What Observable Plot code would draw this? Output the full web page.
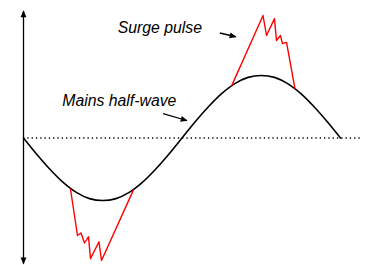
<!DOCTYPE html>
<html>
<head>
<meta charset="utf-8">
<script src="https://cdn.jsdelivr.net/npm/d3@7"></script>
<script src="https://cdn.jsdelivr.net/npm/@observablehq/plot@0.6"></script>
<style>
  html, body { margin: 0; padding: 0; background: #fff; }
  #chart svg { display: block; }
</style>
</head>
<body>
<div id="chart"></div>
<script>
// Mains half-wave: phase (degrees) and voltage (relative to peak)
const wavePhase = [0,15,30,45,60,75,90,105,120,135,150,165,180,195,210,225,240,255,270,285,300,315,330,345,360];
const waveVolts = [0,-0.26,-0.5,-0.71,-0.87,-0.97,-1,-0.97,-0.87,-0.71,-0.5,-0.26,0,0.26,0.5,0.71,0.87,0.97,1,0.97,0.87,0.71,0.5,0.26,0];

// Surge pulse on the negative half-wave
const surgeNegPhase = [53.4,61.3,65.3,69.3,73.8,76.1,85.7,88.6,124.9];
const surgeNegVolts = [-0.82,-1.56,-1.52,-1.68,-1.58,-1.93,-1.66,-1.96,-0.83];

// Surge pulse on the positive half-wave
const surgePosPhase = [236.2,272.0,276.0,285.0,287.3,291.8,294.1,298.7,308.3];
const surgePosVolts = [0.83,1.96,1.64,1.91,1.56,1.64,1.51,1.53,0.79];

// Annotations
const labelTexts = ["Surge pulse", "Mains half-wave"];
const labelPhase = [107.0, 44.0];
const labelVolts = [1.68, 0.52];
const pointerX1 = [223.0, 158.5];
const pointerY1 = [1.68, 0.39];
const pointerX2 = [241.0, 185.5];
const pointerY2 = [1.62, 0.28];

const wave = wavePhase.map((p, i) => ({p, v: waveVolts[i]}));
const neg = surgeNegPhase.map((p, i) => ({p, v: surgeNegVolts[i]}));
const pos = surgePosPhase.map((p, i) => ({p, v: surgePosVolts[i]}));
const labels = labelTexts.map((t, i) => ({t, p: labelPhase[i], v: labelVolts[i]}));
const pointers = pointerX1.map((x1, i) => ({x1, y1: pointerY1[i], x2: pointerX2[i], y2: pointerY2[i]}));
const axisArrows = [{x1: 0, y1: 0, x2: 0, y2: 2.03}, {x1: 0, y1: 0, x2: 0, y2: -2.01}];

const svg = Plot.plot({
  width: 368,
  height: 265,
  marginLeft: 23,
  marginRight: 28,
  marginTop: 0,
  marginBottom: 0,
  style: {background: "#fff", fontFamily: "'Liberation Sans', Arial, sans-serif"},
  x: {domain: [0, 360], axis: null},
  y: {domain: [-2.04, 2.2], axis: null},
  marks: [
    Plot.ruleY([0], {x1: 0, x2: 385, stroke: "#000", strokeWidth: 1.3, strokeDasharray: "1.3,3"}),
    Plot.link(axisArrows, {x1: "x1", y1: "y1", x2: "x2", y2: "y2", stroke: "#000", strokeWidth: 1.3, markerEnd: "arrow"}),
    Plot.line(wave, {x: "p", y: "v", stroke: "#000", strokeWidth: 1.6, curve: "catmull-rom"}),
    Plot.line(neg, {x: "p", y: "v", stroke: "#ff0000", strokeWidth: 1.4}),
    Plot.line(pos, {x: "p", y: "v", stroke: "#ff0000", strokeWidth: 1.4}),
    Plot.link(pointers, {x1: "x1", y1: "y1", x2: "x2", y2: "y2", stroke: "#000", strokeWidth: 1.3, markerEnd: "arrow"}),
    Plot.text(labels, {x: "p", y: "v", text: "t", textAnchor: "start", lineAnchor: "bottom", fontSize: 15.8, fontStyle: "italic", fill: "#000"})
  ]
});

// filled triangular arrowheads
d3.select(svg).selectAll("marker")
  .attr("overflow", "visible")
  .attr("fill", function() { return this.getAttribute("stroke") || "#000"; })
  .attr("stroke", "none")
  .select("path")
  .attr("d", "M-7,-3.4L1,0L-7,3.4Z");

document.getElementById("chart").appendChild(svg);
</script>
</body>
</html>
